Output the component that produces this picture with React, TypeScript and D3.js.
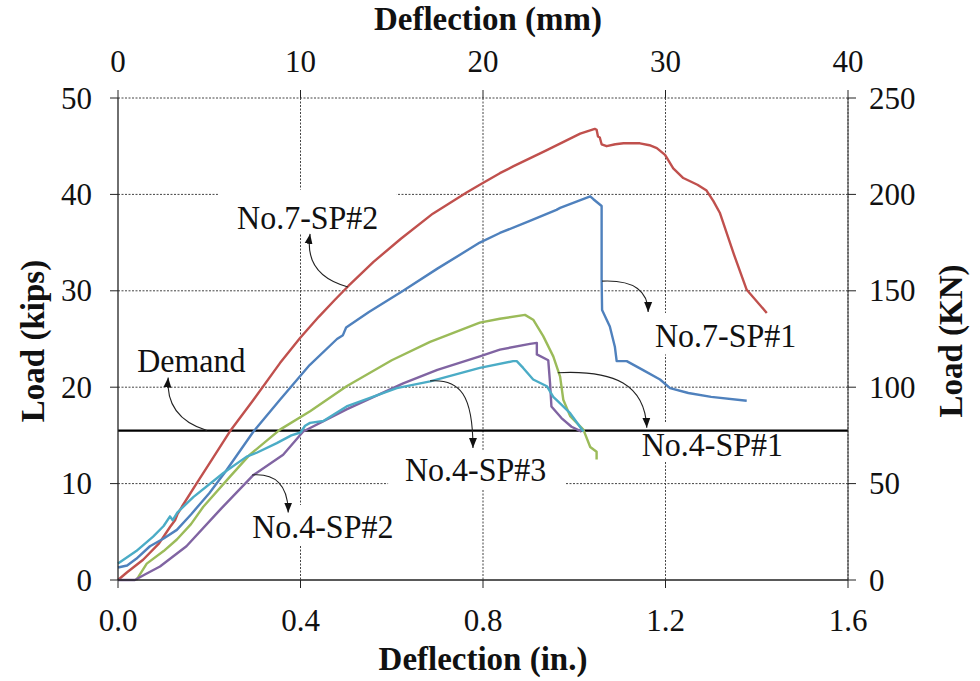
import React from "react";
import * as d3 from "d3";

type P = [number, number];

// Deflection (in.), Load (kips)
const sp7_2: P[] = [[0,0],[0.02,0.8],[0.055,2.1],[0.09,3.8],[0.114,5.5],[0.125,6.2],[0.13,6.8],[0.14,7.6],[0.172,10.0],[0.21,12.8],[0.245,15.4],[0.297,18.7],[0.355,22.5],[0.399,25.1],[0.44,27.3],[0.476,29.1],[0.505,30.5],[0.56,33.0],[0.62,35.4],[0.69,38.0],[0.764,40.2],[0.793,41.0],[0.837,42.2],[0.866,42.9],[0.94,44.6],[1.013,46.3],[1.045,46.8],[1.049,46.7],[1.052,46.0],[1.056,45.9],[1.06,45.2],[1.071,45.0],[1.09,45.2],[1.108,45.3],[1.144,45.3],[1.165,45.1],[1.181,44.8],[1.199,44.1],[1.217,42.7],[1.239,41.7],[1.27,41.0],[1.29,40.4],[1.305,39.3],[1.319,38.1],[1.349,33.9],[1.378,30.1],[1.422,27.7]];
const sp7_1: P[] = [[0,1.3],[0.02,1.5],[0.04,2.2],[0.07,3.5],[0.1,4.3],[0.129,5.2],[0.16,6.8],[0.2,9.0],[0.235,11.2],[0.297,15.4],[0.355,18.7],[0.42,22.3],[0.48,25.0],[0.493,25.4],[0.5,26.2],[0.55,27.8],[0.625,30.0],[0.7,32.3],[0.793,35.0],[0.837,36.0],[0.9,37.2],[0.961,38.4],[0.969,38.6],[1.035,39.8],[1.042,39.5],[1.06,38.8],[1.06,31.2],[1.061,28.0],[1.078,26.3],[1.089,24.2],[1.093,22.7],[1.115,22.7],[1.15,21.8],[1.188,20.8],[1.21,19.9],[1.25,19.4],[1.3,19.0],[1.378,18.6]];
const sp4_1: P[] = [[0.04,0],[0.045,0.35],[0.063,1.7],[0.1,3.0],[0.129,4.2],[0.16,5.8],[0.187,7.6],[0.245,10.7],[0.289,13.0],[0.355,15.6],[0.421,17.5],[0.501,20.1],[0.6,22.8],[0.684,24.7],[0.793,26.7],[0.837,27.1],[0.892,27.5],[0.91,27.0],[0.932,25.3],[0.954,23.2],[0.969,21.1],[0.976,18.7],[0.991,17.0],[1.02,15.6],[1.035,13.8],[1.049,13.3],[1.049,12.5]];
const sp4_2: P[] = [[0,0],[0.037,0],[0.06,0.6],[0.092,1.4],[0.15,3.5],[0.224,7.3],[0.297,10.9],[0.362,13.0],[0.406,15.4],[0.501,17.7],[0.625,20.4],[0.7,21.8],[0.793,23.2],[0.837,23.9],[0.903,24.5],[0.918,24.6],[0.918,23.4],[0.943,22.8],[0.947,20.4],[0.95,18.0],[0.972,16.8],[0.994,15.9],[1.016,15.4]];
const sp4_3: P[] = [[0,1.7],[0.04,3.0],[0.077,4.5],[0.1,5.6],[0.114,6.6],[0.12,6.2],[0.13,7.0],[0.165,8.6],[0.231,11.1],[0.282,12.8],[0.304,13.2],[0.348,14.2],[0.38,15.0],[0.4,15.3],[0.41,16.0],[0.421,16.3],[0.45,16.5],[0.501,18.0],[0.611,19.9],[0.684,20.6],[0.793,22.0],[0.866,22.7],[0.874,22.7],[0.888,22.0],[0.91,20.8],[0.94,20.1],[0.954,19.0],[0.965,18.5],[0.991,17.3],[1.02,15.4]];

const demand = 15.5;

const xTicksIn = [0, 0.4, 0.8, 1.2, 1.6];
const xTicksMm = [0, 10, 20, 30, 40];
const yTicksKips = [0, 10, 20, 30, 40, 50];
const yTicksKN = [0, 50, 100, 150, 200, 250];

const series = [
  { name: "No.7-SP#2", data: sp7_2, color: "#C0504D" },
  { name: "No.7-SP#1", data: sp7_1, color: "#4F81BD" },
  { name: "No.4-SP#1", data: sp4_1, color: "#9BBB59" },
  { name: "No.4-SP#2", data: sp4_2, color: "#8064A2" },
  { name: "No.4-SP#3", data: sp4_3, color: "#4BACC6" },
];

// annotations in data units: text anchor, white box [x0,x1,y0,y1], arrow tail, c1, c2, tip
const annotations = [
  { text: "No.7-SP#2", at: [0.261, 36.4], box: [0.219, 0.611, 40.5, 35.9], arrow: [[0.504, 30.4], [0.45, 31.1], [0.41, 32.6], [0.421, 35.9]] },
  { text: "Demand", at: [0.042, 21.6], box: null, arrow: [[0.195, 15.5], [0.14, 16.3], [0.105, 18.0], [0.11, 21.0]] },
  { text: "No.4-SP#2", at: [0.294, 4.36], box: [0.285, 0.609, 7.79, 3.53], arrow: [[0.294, 10.9], [0.344, 11.1], [0.373, 9.9], [0.373, 7.0]] },
  { text: "No.4-SP#3", at: [0.629, 10.28], box: [0.592, 0.98, 13.5, 9.35], arrow: [[0.684, 20.66], [0.75, 20.87], [0.778, 19.2], [0.778, 13.7]] },
  { text: "No.7-SP#1", at: [1.177, 24.2], box: [1.155, 1.495, 27.7, 23.4], arrow: [[1.061, 31.0], [1.133, 31.15], [1.162, 29.9], [1.162, 27.8]] },
  { text: "No.4-SP#1", at: [1.148, 12.9], box: [1.133, 1.473, 16.3, 12.25], arrow: [[0.964, 21.5], [1.089, 21.8], [1.155, 20.25], [1.159, 15.8]] },
];

const W = 980, H = 681;
const L = 118, R = 848, T = 98, B = 580;
const FONT = "'Liberation Serif', 'Times New Roman', serif";

export default function App() {
  const x = d3.scaleLinear().domain([0, 1.6]).range([L, R]);
  const y = d3.scaleLinear().domain([0, 50]).range([B, T]);
  const xmm = d3.scaleLinear().domain([0, 40]).range([L, R]);
  const ykn = d3.scaleLinear().domain([0, 250]).range([B, T]);
  const line = d3.line<P>().x((d) => x(d[0])).y((d) => y(d[1]));
  const sy = 1.04;
  const txt = (px: number, py: number, s: string, size: number, anchor: string, bold = false, key?: any) => (
    <text key={key} transform={`translate(${px},${py}) scale(1,${sy})`} textAnchor={anchor as any}
      fontSize={size} fontFamily={FONT} fontWeight={bold ? "bold" : "normal"} fill="#111">{s}</text>
  );
  const grid = "#444";
  return (
    <svg width={W} height={H} style={{ position: "absolute", left: 0, top: 0, background: "#fff" }}>
      <defs>
        <marker id="ah" viewBox="0 0 10 10" refX="10" refY="5" markerWidth="10" markerHeight="10" markerUnits="userSpaceOnUse" orient="auto">
          <path d="M0,1 L10,5 L0,9 Z" fill="#111" />
        </marker>
      </defs>
      <rect x={0} y={0} width={W} height={H} fill="#fff" />
      {/* grid */}
      {yTicksKips.filter((v) => v > 0).map((v) => (
        <line key={"gy" + v} x1={L} x2={R} y1={y(v)} y2={y(v)} stroke={grid} strokeWidth={1} strokeDasharray="2,1.5" />
      ))}
      {xTicksIn.filter((v) => v > 0).map((v) => (
        <line key={"gx" + v} x1={x(v)} x2={x(v)} y1={T} y2={B} stroke={grid} strokeWidth={1} strokeDasharray="2,1.5" />
      ))}
      {/* label boxes */}
      {annotations.filter((a) => a.box).map((a, i) => {
        const b = a.box as number[];
        return <rect key={"b" + i} x={x(b[0])} y={y(b[2])} width={x(b[1]) - x(b[0])} height={y(b[3]) - y(b[2])} fill="#fff" />;
      })}
      {/* demand */}
      <line x1={x(0)} x2={x(1.6)} y1={y(demand)} y2={y(demand)} stroke="#000" strokeWidth={2.2} />
      {/* series */}
      {series.map((s) => (
        <path key={s.name} d={line(s.data) || ""} fill="none" stroke={s.color} strokeWidth={2.4} strokeLinejoin="round" />
      ))}
      {/* arrows */}
      {annotations.map((a, i) => {
        const [p0, c1, c2, p1] = a.arrow;
        const d = `M${x(p0[0])},${y(p0[1])} C${x(c1[0])},${y(c1[1])} ${x(c2[0])},${y(c2[1])} ${x(p1[0])},${y(p1[1])}`;
        return <path key={"a" + i} d={d} fill="none" stroke="#222" strokeWidth={1.1} markerEnd="url(#ah)" />;
      })}
      {annotations.map((a, i) => txt(x(a.at[0]), y(a.at[1]), a.text, 32, "start", false, "t" + i))}
      {/* axes */}
      <line x1={L} x2={L} y1={T} y2={B} stroke="#222" strokeWidth={1.3} />
      <line x1={L} x2={R} y1={B} y2={B} stroke="#222" strokeWidth={1.3} />
      <line x1={R} x2={R} y1={T} y2={B} stroke="#333" strokeWidth={1} />
      {yTicksKips.map((v) => (
        <g key={"yl" + v}>
          <line x1={L - 8} x2={L} y1={y(v)} y2={y(v)} stroke="#222" strokeWidth={1} />
          {txt(92, y(v) + 10.5, String(v), 31, "end")}
        </g>
      ))}
      {yTicksKN.map((v) => (
        <g key={"yr" + v}>
          <line x1={R} x2={R + 8} y1={ykn(v)} y2={ykn(v)} stroke="#222" strokeWidth={1} />
          {txt(869, ykn(v) + 10.5, String(v), 31, "start")}
        </g>
      ))}
      {xTicksIn.map((v) => (
        <g key={"xb" + v}>
          <line x1={x(v)} x2={x(v)} y1={B} y2={B + 8} stroke="#222" strokeWidth={1} />
          {txt(x(v), 631, v.toFixed(1), 31, "middle")}
        </g>
      ))}
      {xTicksMm.map((v) => (
        <g key={"xt" + v}>
          <line x1={xmm(v)} x2={xmm(v)} y1={T - 8} y2={T} stroke="#222" strokeWidth={1} />
          {txt(xmm(v), 72, String(v), 31, "middle")}
        </g>
      ))}
      {txt(488, 30, "Deflection (mm)", 33, "middle", true)}
      {txt(483, 670, "Deflection (in.)", 33, "middle", true)}
      <text transform={`translate(44,341) rotate(-90)`} textAnchor="middle" fontSize={33} fontWeight="bold" fontFamily={FONT} fill="#111">Load (kips)</text>
      <text transform={`translate(962,341) rotate(-90)`} textAnchor="middle" fontSize={33} fontWeight="bold" fontFamily={FONT} fill="#111">Load (KN)</text>
    </svg>
  );
}
